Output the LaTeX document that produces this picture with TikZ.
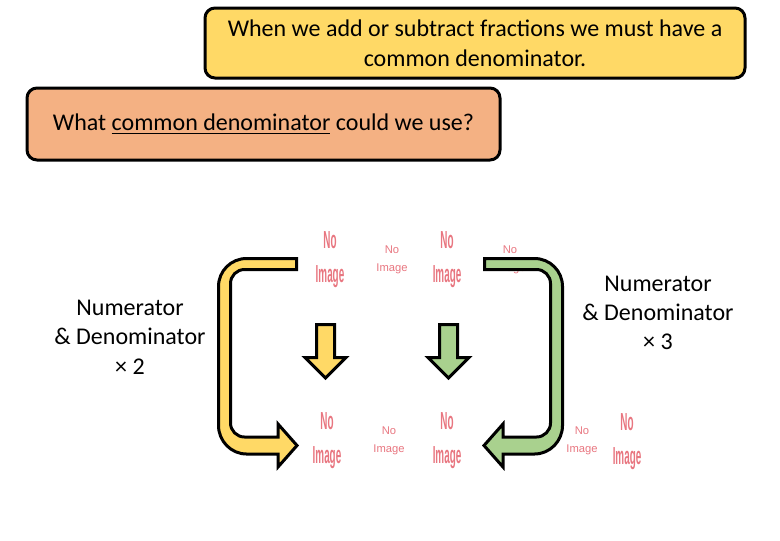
\documentclass[tikz,border=0pt]{standalone}
\usepackage{fontspec}
\setmainfont{Carlito}
\newfontfamily\phfont{Liberation Sans}
\usepackage{graphicx}
\usepackage{xcolor}
\usepackage{tikz}
\usetikzlibrary{calc}
\definecolor{noteyellow}{RGB}{255,217,102}
\definecolor{noteorange}{RGB}{244,177,131}
\definecolor{notegreen}{RGB}{169,209,142}
\definecolor{phpink}{RGB}{232,118,128}
\tikzstyle{note}=[draw=black,line width=2.25pt,rounded corners=7.5pt,align=center,font=\fontsize{18}{22.5}\selectfont]
\tikzstyle{factor}=[align=center,font=\fontsize{18}{22}\selectfont]
\tikzstyle{imgph}=[text=phpink,inner sep=0pt]
\tikzstyle{imgphs}=[text=phpink,inner sep=0pt,align=center,font=\phfont\fontsize{8.4}{13.5}\selectfont]
\tikzstyle{arr}=[draw=black,line width=2.25pt,line join=miter]
\newcommand\phbig{\scalebox{.4}[1]{\fontsize{18.5}{25.5}\phfont\bfseries\selectfont\begin{tabular}{@{}c@{}}No\\Image\end{tabular}}}
\newcommand\bentarrow[1]{%
  \filldraw[arr,fill=#1] (296.5,258.5) -- (246.5,258.5)
    .. controls (231,258.5) and (218.5,271) .. (218.5,286.5) -- (218.5,425.5)
    .. controls (218.5,441) and (231,454) .. (246.5,454) -- (278,454)
    -- (278,467) -- (297,445.5) -- (278,424) -- (278,437) -- (244.5,437)
    .. controls (236.8,437) and (230.5,430.7) .. (230.5,423) -- (230.5,283.5)
    .. controls (230.5,275.8) and (236.8,269.5) .. (244.5,269.5) -- (296.5,269.5) -- cycle;}
\newcommand\droparrow[2]{%
  \filldraw[arr,fill=#2] (#1-9,324.5) -- (#1+9,324.5) -- (#1+9,357.5) -- (#1+20.5,357.5)
    -- (#1,378) -- (#1-20.5,357.5) -- (#1-9,357.5) -- cycle;}

\begin{document}
\begin{tikzpicture}[x=0.75pt,y=-0.75pt]
	\useasboundingbox (0,0) rectangle (780,540);
	% the two notes
	\node[note,fill=noteyellow,minimum width=405pt,minimum height=52.5pt] (rule) at (475,43)
	  {When we add or subtract fractions we must have a\\common denominator.};
	\node[note,fill=noteorange,minimum width=354.75pt,minimum height=54pt] (ask) at (263.5,124)
	  {What \underline{common denominator} could we use?};
	% missing pictures
	\node[imgph]  (ph-1-1) at (330,259) {\phbig};
	\node[imgphs] (ph-1-2) at (392,260) {No\\Image};
	\node[imgph]  (ph-1-3) at (447,259) {\phbig};
	\node[imgphs] (ph-1-4) at (510,260) {No\\Image};
	\node[imgph]  (ph-2-1) at (327,440) {\phbig};
	\node[imgphs] (ph-2-2) at (389,441) {No\\Image};
	\node[imgph]  (ph-2-3) at (447,440) {\phbig};
	\node[imgphs] (ph-2-4) at (582,441) {No\\Image};
	\node[imgph]  (ph-2-5) at (627,441) {\phbig};
	% arrows
	\bentarrow{noteyellow}
	\begin{scope}[shift={(781,0)},xscale=-1]
		\bentarrow{notegreen}
	\end{scope}
	\droparrow{325.5}{noteyellow}
	\droparrow{448.5}{notegreen}
	% factors
	\node[factor] (times2) at (130,337) {Numerator\\\& Denominator\\× 2};
	\node[factor] (times3) at (658,313) {Numerator\\\& Denominator\\× 3};
\end{tikzpicture}
\end{document}
